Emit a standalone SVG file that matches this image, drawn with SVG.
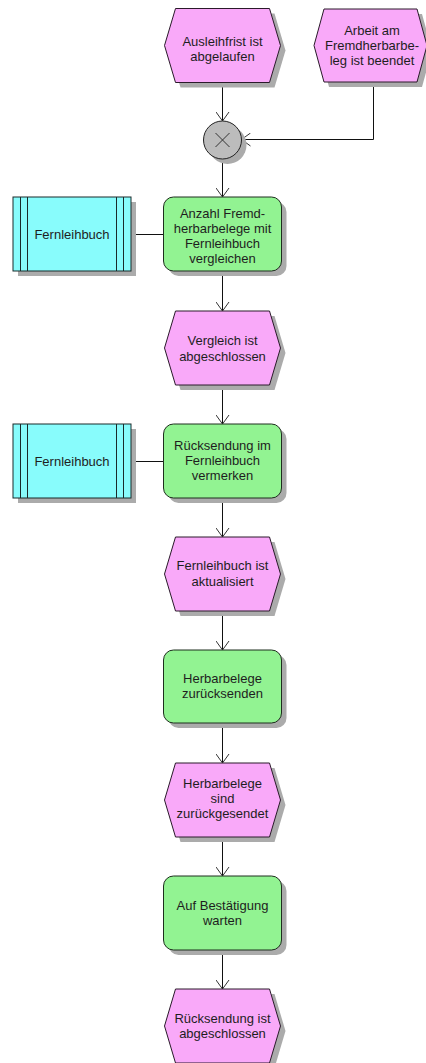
<svg xmlns="http://www.w3.org/2000/svg" width="426" height="1063" viewBox="0 0 426 1063">
  <style>
    text { font-family: "Liberation Sans", Arial, sans-serif; font-size: 13px; fill: #1e1e1e; text-anchor: middle; }
    .shadow { fill: #ababab; stroke: none; }
    .event { fill: #f9a9f9; stroke: #2a1a2a; stroke-width: 1; }
    .func { fill: #92f392; stroke: #1e2e1e; stroke-width: 1; }
    .info { fill: #88fcfc; stroke: #1a2a2a; stroke-width: 1; }
    .info-line { stroke: #1a2a2a; stroke-width: 1; fill: none; }
    .op { fill: #bcbcbc; stroke: #222; stroke-width: 1; }
    .op-x { stroke: #333; stroke-width: 1; fill: none; }
    .edge { stroke: #111; stroke-width: 1; fill: none; }
    .flow { marker-end: url(#open-arrow); }
  </style>
  <defs>
    <marker id="open-arrow" viewBox="0 0 12 14" markerWidth="12" markerHeight="14" refX="10" refY="7" orient="auto" markerUnits="userSpaceOnUse">
      <path d="M1,0.5 L10,7 L1,13.5" fill="none" stroke="#333" stroke-width="1"/>
    </marker>
    <!-- event hexagon, 116 wide, 74 high, origin at top-left bounding corner -->
    <path id="hex" d="M0,37 L11,0 L105,0 L116,37 L105,74 L11,74 Z"/>
  </defs>

  <rect width="426" height="1063" fill="#ffffff"/>

  <!-- connectors -->
  <g id="connectors">
    <path class="edge flow" d="M222.5,82 L222.5,121"/>
    <path class="edge flow" d="M373.5,82 L373.5,139.5 L241.5,139.5"/>
    <path class="edge flow" d="M222.5,159 L222.5,197"/>
    <path class="edge flow" d="M222.5,271 L222.5,311"/>
    <path class="edge flow" d="M222.5,385 L222.5,424"/>
    <path class="edge flow" d="M222.5,498 L222.5,537"/>
    <path class="edge flow" d="M222.5,611 L222.5,650"/>
    <path class="edge flow" d="M222.5,723 L222.5,763"/>
    <path class="edge flow" d="M222.5,837 L222.5,876"/>
    <path class="edge flow" d="M222.5,950 L222.5,989"/>
    <path class="edge" d="M131,234.5 L164,234.5"/>
    <path class="edge" d="M131,461.5 L164,461.5"/>
  </g>

  <!-- events -->
  <g id="ev-ausleihfrist">
    <use href="#hex" class="shadow" x="169.5" y="13.5"/>
    <use href="#hex" class="event" x="164.5" y="8.5"/>
    <text x="222.5" y="46">Ausleihfrist ist</text>
    <text x="222.5" y="61">abgelaufen</text>
  </g>
  <g id="ev-arbeit">
    <path class="shadow" d="M319,50.5 L329,14 L422,14 L432,50.5 L422,87 L329,87 Z"/>
    <path class="event" d="M314,45.5 L324,9 L417,9 L427,45.5 L417,82 L324,82 Z"/>
    <text x="372" y="35">Arbeit am</text>
    <text x="372" y="50">Fremdherbarbe-</text>
    <text x="372" y="65">leg ist beendet</text>
  </g>

  <!-- XOR connector -->
  <g id="xor">
    <circle class="shadow" cx="227.5" cy="145" r="19"/>
    <circle class="op" cx="222.5" cy="140" r="19"/>
    <path class="op-x" d="M215.5,133 L229.5,147 M229.5,133 L215.5,147"/>
  </g>

  <g id="fn-vergleichen">
    <rect class="shadow" x="168.5" y="202" width="118" height="74" rx="10"/>
    <rect class="func" x="163.5" y="197" width="118" height="74" rx="10"/>
    <text x="222.5" y="218">Anzahl Fremd-</text>
    <text x="222.5" y="233">herbarbelege mit</text>
    <text x="222.5" y="248">Fernleihbuch</text>
    <text x="222.5" y="263">vergleichen</text>
  </g>
  <g id="info-fernleihbuch-1">
    <rect class="shadow" x="18" y="202" width="118" height="74"/>
    <rect class="info" x="13" y="197" width="118" height="74"/>
    <path class="info-line" d="M20.5,197 V271 M27.5,197 V271 M116.5,197 V271 M123.5,197 V271"/>
    <text x="72" y="239">Fernleihbuch</text>
  </g>

  <g id="ev-vergleich">
    <use href="#hex" class="shadow" x="169.5" y="316"/>
    <use href="#hex" class="event" x="164.5" y="311"/>
    <text x="222.5" y="345">Vergleich ist</text>
    <text x="222.5" y="361">abgeschlossen</text>
  </g>

  <g id="fn-vermerken">
    <rect class="shadow" x="168.5" y="429" width="118" height="74" rx="10"/>
    <rect class="func" x="163.5" y="424" width="118" height="74" rx="10"/>
    <text x="222.5" y="450">Rücksendung im</text>
    <text x="222.5" y="465">Fernleihbuch</text>
    <text x="222.5" y="480">vermerken</text>
  </g>
  <g id="info-fernleihbuch-2">
    <rect class="shadow" x="18" y="429" width="118" height="74"/>
    <rect class="info" x="13" y="424" width="118" height="74"/>
    <path class="info-line" d="M20.5,424 V498 M27.5,424 V498 M116.5,424 V498 M123.5,424 V498"/>
    <text x="72" y="466">Fernleihbuch</text>
  </g>

  <g id="ev-aktualisiert">
    <use href="#hex" class="shadow" x="169.5" y="542"/>
    <use href="#hex" class="event" x="164.5" y="537"/>
    <text x="222.5" y="570">Fernleihbuch ist</text>
    <text x="222.5" y="586">aktualisiert</text>
  </g>

  <g id="fn-zuruecksenden">
    <rect class="shadow" x="168.5" y="655" width="118" height="73" rx="10"/>
    <rect class="func" x="163.5" y="650" width="118" height="73" rx="10"/>
    <text x="222.5" y="683">Herbarbelege</text>
    <text x="222.5" y="698">zurücksenden</text>
  </g>

  <g id="ev-zurueckgesendet">
    <use href="#hex" class="shadow" x="169.5" y="768"/>
    <use href="#hex" class="event" x="164.5" y="763"/>
    <text x="222.5" y="788">Herbarbelege</text>
    <text x="222.5" y="803">sind</text>
    <text x="222.5" y="818">zurückgesendet</text>
  </g>

  <g id="fn-warten">
    <rect class="shadow" x="168.5" y="881" width="118" height="74" rx="10"/>
    <rect class="func" x="163.5" y="876" width="118" height="74" rx="10"/>
    <text x="222.5" y="910">Auf Bestätigung</text>
    <text x="222.5" y="925">warten</text>
  </g>

  <g id="ev-abgeschlossen">
    <use href="#hex" class="shadow" x="169.5" y="994"/>
    <use href="#hex" class="event" x="164.5" y="989"/>
    <text x="222.5" y="1023">Rücksendung ist</text>
    <text x="222.5" y="1038">abgeschlossen</text>
  </g>
</svg>
